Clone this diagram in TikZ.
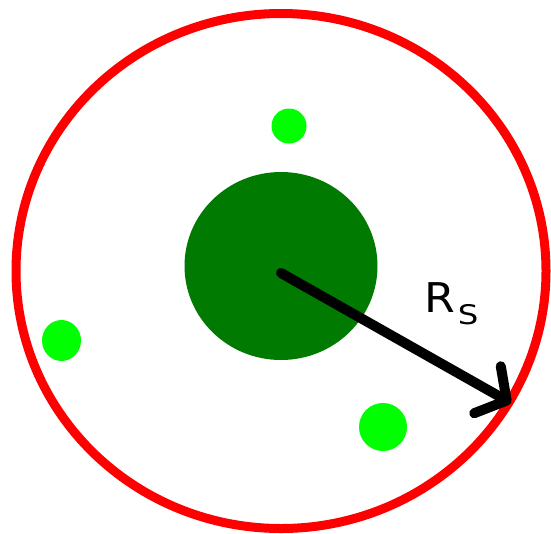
\documentclass[tikz,border=0pt]{standalone}
\usepackage{fontspec}
\newfontfamily\rsfont{DejaVu Sans}
\usetikzlibrary{shapes.geometric, arrows.meta}
\definecolor{rimred}{RGB}{255,0,0}
\definecolor{coregreen}{RGB}{0,122,0}
\definecolor{moongreen}{RGB}{0,255,0}

\begin{document}
\begin{tikzpicture}[
	x=1pt, y=-1pt,
	rim/.style        = {ellipse, draw=rimred, line width=9pt, inner sep=0pt,
		minimum width=530pt, minimum height=515pt},
	core/.style       = {ellipse, fill=coregreen, inner sep=0pt,
		minimum width=193pt, minimum height=188pt},
	moon/.style       = {ellipse, fill=moongreen, inner sep=0pt},
	radiusarrow/.style = {line width=10pt, line cap=round,
		-{Straight Barb[length=22pt, width=54pt, round]}},
	rslabel/.style    = {font=\rsfont, anchor=base west, inner sep=0pt}
	]
	\useasboundingbox (0,0) rectangle (551,533);
	
	% ===================== Sphere and central body =====================
	\node[rim]  (rimcircle) at (281,271) {};
	\node[core] (nucleus)   at (281,266) {};
	
	% ===================== Small bodies =====================
	\node[moon, minimum width=35pt, minimum height=35pt] (moontop)  at (289,126)   {};
	\node[moon, minimum width=39pt, minimum height=41pt] (moonleft) at (61.5,340.5) {};
	\node[moon, minimum width=48pt, minimum height=48pt] (moonlow)  at (383,427)   {};
	
	% ===================== Radius =====================
	\coordinate (rimhit) at (511,403);
	\draw[radiusarrow] ([yshift=-7pt]nucleus.center) -- (rimhit);
	
	\node[rslabel] (rs) at (424,312)
		{\fontsize{41}{41}\selectfont\scalebox{1.08}[1]{R}\hspace{3pt}\raisebox{-12pt}{\fontsize{27}{27}\selectfont\scalebox{1.2}[1]{S}}};
	
\end{tikzpicture}
\end{document}
